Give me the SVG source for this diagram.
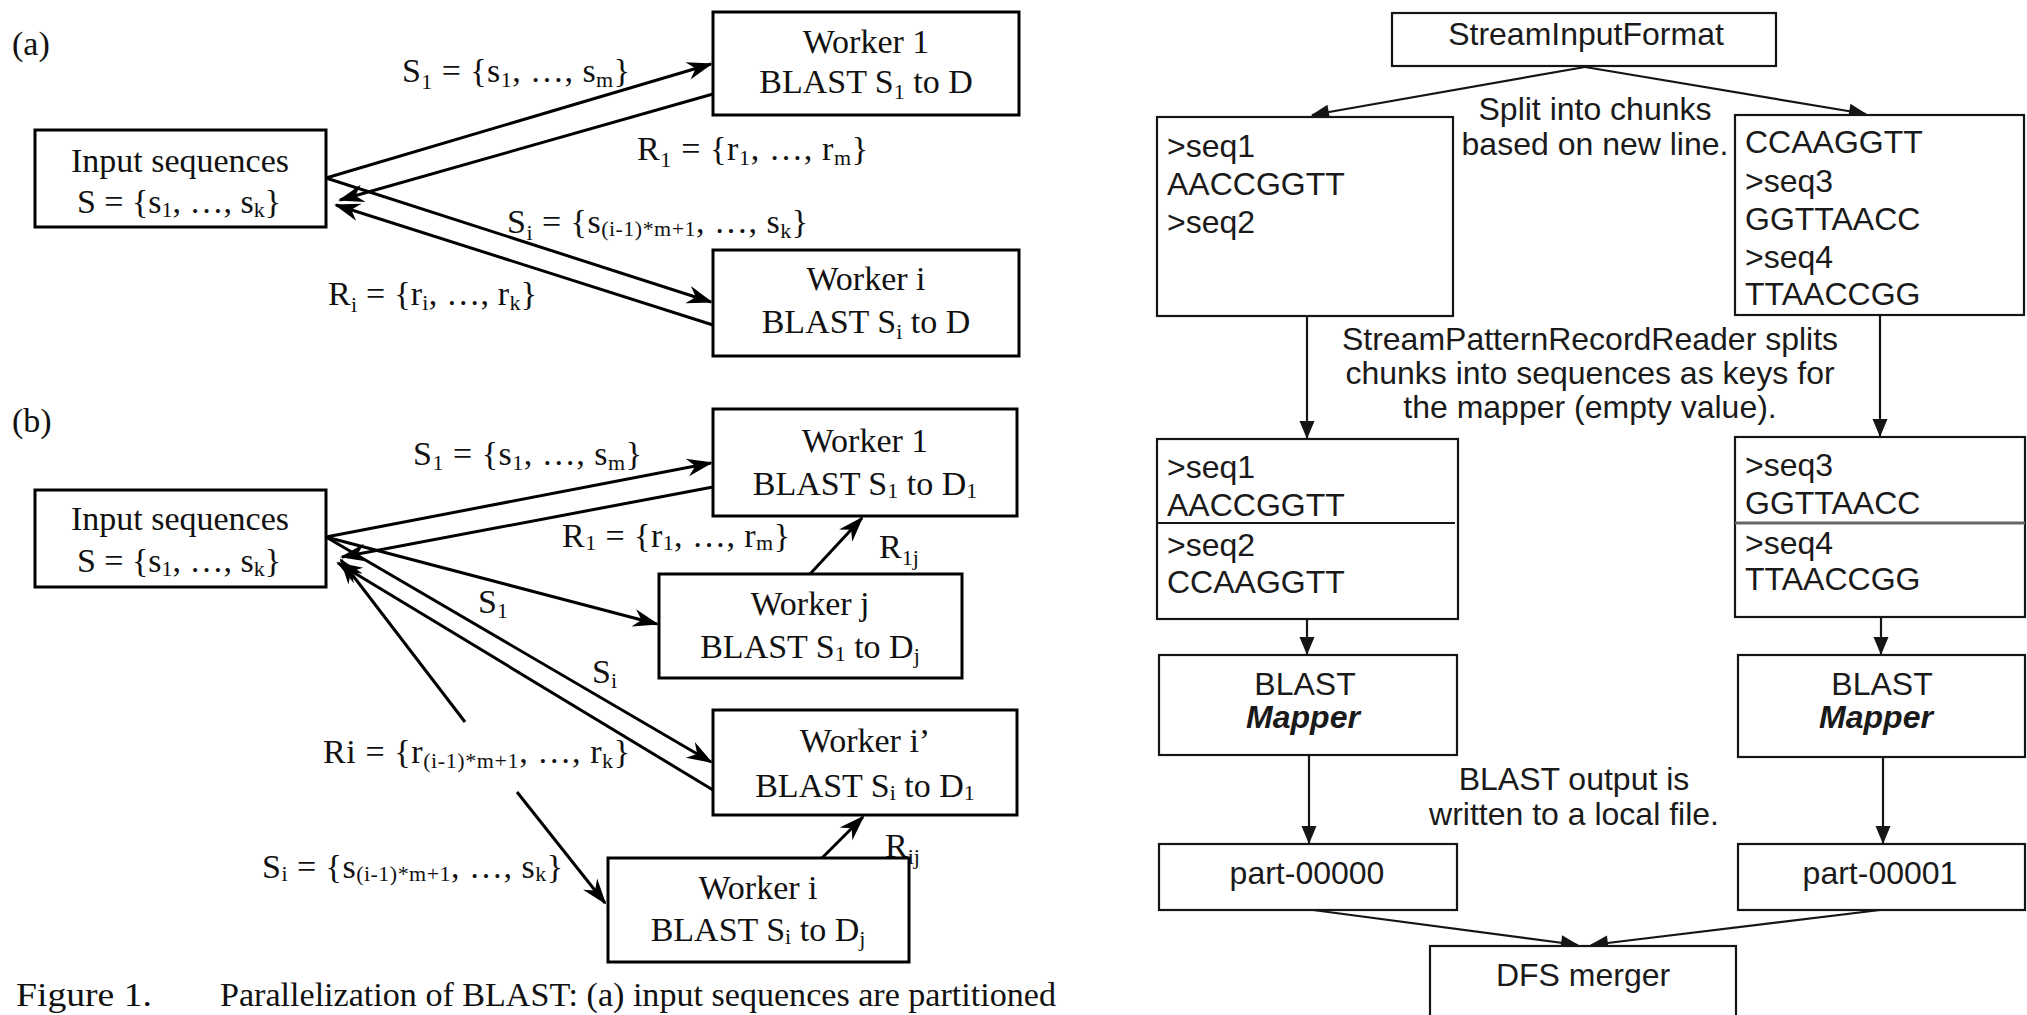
<svg xmlns="http://www.w3.org/2000/svg" width="2027" height="1015" viewBox="0 0 2027 1015">
<defs>
<style>
.box{fill:#fff;stroke:#000;stroke-width:3}
.rbox{fill:#fff;stroke:#151515;stroke-width:2.2}
.c{stroke:#000;stroke-width:3;fill:none;marker-end:url(#ah)}
.rc{stroke:#151515;stroke-width:2.2;fill:none;marker-end:url(#rah)}
.t{font-family:"Liberation Serif","Times New Roman",serif;font-size:34px;fill:#111}
.m{text-anchor:middle}
.sb{font-size:22px}
.s{font-family:"Liberation Sans",Arial,sans-serif;font-size:32px;fill:#1a1a1a}
.bi{font-weight:bold;font-style:italic}
</style>
<marker id="ah" markerUnits="userSpaceOnUse" markerWidth="30" markerHeight="22" viewBox="-26 -11 30 22" refX="0" refY="0" orient="auto">
<path d="M2,0 L-24,-9 L-16,0 L-24,9 Z" fill="#000"/>
</marker>
<marker id="rah" markerUnits="userSpaceOnUse" markerWidth="22" markerHeight="20" viewBox="-20 -10 22 20" refX="0" refY="0" orient="auto">
<path d="M1,0 L-17,-7.5 L-17,7.5 Z" fill="#151515"/>
</marker>
</defs>
<rect x="0" y="0" width="2027" height="1015" fill="#fff"/>

<!-- ===== Left figure ===== -->
<text class="t" x="12" y="55">(a)</text>
<text class="t" x="12" y="432">(b)</text>

<g id="connectors-left">
<!-- (a) -->
<path class="c" d="M326,178 L711,64"/>
<path class="c" d="M713,94 L340,200"/>
<path class="c" d="M326,178 L711,302"/>
<path class="c" d="M713,325 L336,205"/>
<!-- (b) -->
<path class="c" d="M326,537 L711,463"/>
<path class="c" d="M713,487 L342,557"/>
<path class="c" d="M326,537 L657,624"/>
<path class="c" d="M326,537 L711,762"/>
<path class="c" d="M713,790 L338,563"/>
<path class="c" d="M465,722 L341,560"/>
<path class="c" d="M517,792 L605,903"/>
<path class="c" d="M810,574 L862,518"/>
<path class="c" d="M822,858 L863,817"/>
</g>

<!-- connector labels (a) -->
<text class="t" x="402" y="82" textLength="228">S<tspan class="sb" dy="7">1</tspan><tspan dy="-7"> = {s</tspan><tspan class="sb" dy="5">1</tspan><tspan dy="-5">, …, s</tspan><tspan class="sb" dy="5">m</tspan><tspan dy="-5">}</tspan></text>
<text class="t" x="637" y="160" textLength="231">R<tspan class="sb" dy="7">1</tspan><tspan dy="-7"> = {r</tspan><tspan class="sb" dy="5">1</tspan><tspan dy="-5">, …, r</tspan><tspan class="sb" dy="5">m</tspan><tspan dy="-5">}</tspan></text>
<text class="t" x="507" y="233" textLength="301">S<tspan class="sb" dy="7">i</tspan><tspan dy="-7"> = {s</tspan><tspan class="sb" dy="3">(i-1)*m+1</tspan><tspan dy="-3">, …, s</tspan><tspan class="sb" dy="5">k</tspan><tspan dy="-5">}</tspan></text>
<text class="t" x="328" y="305" textLength="209">R<tspan class="sb" dy="7">i</tspan><tspan dy="-7"> = {r</tspan><tspan class="sb" dy="5">i</tspan><tspan dy="-5">, …, r</tspan><tspan class="sb" dy="5">k</tspan><tspan dy="-5">}</tspan></text>

<!-- connector labels (b) -->
<text class="t" x="413" y="465" textLength="229">S<tspan class="sb" dy="5">1</tspan><tspan dy="-5"> = {s</tspan><tspan class="sb" dy="5">1</tspan><tspan dy="-5">, …, s</tspan><tspan class="sb" dy="5">m</tspan><tspan dy="-5">}</tspan></text>
<text class="t" x="562" y="547" textLength="228">R<tspan class="sb" dy="3">1</tspan><tspan dy="-3"> = {r</tspan><tspan class="sb" dy="3">1</tspan><tspan dy="-3">, …, r</tspan><tspan class="sb" dy="3">m</tspan><tspan dy="-3">}</tspan></text>
<text class="t" x="478" y="613">S<tspan class="sb" dy="5">1</tspan></text>
<text class="t" x="592" y="683">S<tspan class="sb" dy="5">i</tspan></text>
<text class="t" x="323" y="763" textLength="307">Ri = {r<tspan class="sb" dy="5">(i-1)*m+1</tspan><tspan dy="-5">, …, r</tspan><tspan class="sb" dy="5">k</tspan><tspan dy="-5">}</tspan></text>
<text class="t" x="262" y="878" textLength="301">S<tspan class="sb" dy="3">i</tspan><tspan dy="-3"> = {s</tspan><tspan class="sb" dy="3">(i-1)*m+1</tspan><tspan dy="-3">, …, s</tspan><tspan class="sb" dy="3">k</tspan><tspan dy="-3">}</tspan></text>
<text class="t" x="879" y="558">R<tspan class="sb" dy="7">1j</tspan></text>
<text class="t" x="885" y="857">R<tspan class="sb" dy="7">ij</tspan></text>

<!-- nodes (a) -->
<g id="input-a">
<rect class="box" x="35" y="130" width="291" height="97"/>
<text class="t m" x="180" y="172">Input sequences</text>
<text class="t m" x="179" y="213">S = {s<tspan class="sb" dy="4">1</tspan><tspan dy="-4">, …, s</tspan><tspan class="sb" dy="4">k</tspan><tspan dy="-4">}</tspan></text>
</g>
<g id="worker1-a">
<rect class="box" x="713" y="12" width="306" height="103"/>
<text class="t m" x="866" y="53">Worker 1</text>
<text class="t m" x="866" y="93">BLAST S<tspan class="sb" dy="6">1</tspan><tspan dy="-6"> to D</tspan></text>
</g>
<g id="workeri-a">
<rect class="box" x="713" y="250" width="306" height="106"/>
<text class="t m" x="866" y="290">Worker i</text>
<text class="t m" x="866" y="333">BLAST S<tspan class="sb" dy="6">i</tspan><tspan dy="-6"> to D</tspan></text>
</g>

<!-- nodes (b) -->
<g id="input-b">
<rect class="box" x="35" y="490" width="291" height="97"/>
<text class="t m" x="180" y="530">Input sequences</text>
<text class="t m" x="179" y="572">S = {s<tspan class="sb" dy="4">1</tspan><tspan dy="-4">, …, s</tspan><tspan class="sb" dy="4">k</tspan><tspan dy="-4">}</tspan></text>
</g>
<g id="worker1-b">
<rect class="box" x="713" y="409" width="304" height="107"/>
<text class="t m" x="865" y="452">Worker 1</text>
<text class="t m" x="865" y="495">BLAST S<tspan class="sb" dy="3">1</tspan><tspan dy="-3"> to D</tspan><tspan class="sb" dy="3">1</tspan></text>
</g>
<g id="workerj-b">
<rect class="box" x="659" y="574" width="303" height="104"/>
<text class="t m" x="810" y="615">Worker j</text>
<text class="t m" x="810" y="658">BLAST S<tspan class="sb" dy="3">1</tspan><tspan dy="-3"> to D</tspan><tspan class="sb" dy="5">j</tspan></text>
</g>
<g id="workeri2-b">
<rect class="box" x="713" y="710" width="304" height="105"/>
<text class="t m" x="865" y="752">Worker i’</text>
<text class="t m" x="865" y="797">BLAST S<tspan class="sb" dy="3">i</tspan><tspan dy="-3"> to D</tspan><tspan class="sb" dy="3">1</tspan></text>
</g>
<g id="workeri-b">
<rect class="box" x="608" y="858" width="301" height="104"/>
<text class="t m" x="758" y="899">Worker i</text>
<text class="t m" x="758" y="941">BLAST S<tspan class="sb" dy="3">i</tspan><tspan dy="-3"> to D</tspan><tspan class="sb" dy="5">j</tspan></text>
</g>

<text class="t" x="16" y="1006" style="font-size:33px" textLength="136" lengthAdjust="spacingAndGlyphs">Figure 1.</text>
<text class="t" x="220" y="1006" style="font-size:33px" textLength="836" lengthAdjust="spacingAndGlyphs">Parallelization of BLAST: (a) input sequences are partitioned</text>

<!-- ===== Right figure ===== -->
<g id="connectors-right">
<path class="rc" d="M1585,67 L1312,115"/>
<path class="rc" d="M1585,67 L1866,114"/>
<path class="rc" d="M1307,316 L1307,438"/>
<path class="rc" d="M1880,315 L1880,436"/>
<path class="rc" d="M1307,619 L1307,654"/>
<path class="rc" d="M1881,617 L1881,654"/>
<path class="rc" d="M1309,755 L1309,843"/>
<path class="rc" d="M1883,757 L1883,843"/>
<path class="rc" d="M1313,910 L1578,945"/>
<path class="rc" d="M1880,910 L1591,945"/>
</g>

<text class="s m" x="1595" y="120">Split into chunks</text>
<text class="s m" x="1595" y="155">based on new line.</text>
<text class="s m" x="1590" y="350">StreamPatternRecordReader splits</text>
<text class="s m" x="1590" y="384">chunks into sequences as keys for</text>
<text class="s m" x="1590" y="418">the mapper (empty value).</text>
<text class="s m" x="1574" y="790">BLAST output is</text>
<text class="s m" x="1574" y="825">written to a local file.</text>

<g id="sif">
<rect class="rbox" x="1392" y="13" width="384" height="53"/>
<text class="s m" x="1586" y="45">StreamInputFormat</text>
</g>
<g id="chunk-left">
<rect class="rbox" x="1157" y="117" width="296" height="199"/>
<text class="s" x="1167" y="157">&gt;seq1</text>
<text class="s" x="1167" y="195">AACCGGTT</text>
<text class="s" x="1167" y="233">&gt;seq2</text>
</g>
<g id="chunk-right">
<rect class="rbox" x="1735" y="115" width="289" height="200"/>
<text class="s" x="1745" y="153">CCAAGGTT</text>
<text class="s" x="1745" y="192">&gt;seq3</text>
<text class="s" x="1745" y="230">GGTTAACC</text>
<text class="s" x="1745" y="268">&gt;seq4</text>
<text class="s" x="1745" y="305">TTAACCGG</text>
</g>
<g id="seqs-left">
<rect class="rbox" x="1157" y="439" width="301" height="180"/>
<line x1="1157" y1="523" x2="1455" y2="523" stroke="#151515" stroke-width="2.2"/>
<text class="s" x="1167" y="478">&gt;seq1</text>
<text class="s" x="1167" y="516">AACCGGTT</text>
<text class="s" x="1167" y="556">&gt;seq2</text>
<text class="s" x="1167" y="593">CCAAGGTT</text>
</g>
<g id="seqs-right">
<rect class="rbox" x="1735" y="437" width="290" height="180"/>
<line x1="1735" y1="523" x2="2025" y2="523" stroke="#666" stroke-width="3"/>
<text class="s" x="1745" y="476">&gt;seq3</text>
<text class="s" x="1745" y="514">GGTTAACC</text>
<text class="s" x="1745" y="554">&gt;seq4</text>
<text class="s" x="1745" y="590">TTAACCGG</text>
</g>
<g id="mapper-left">
<rect class="rbox" x="1159" y="655" width="298" height="100"/>
<text class="s m" x="1305" y="695">BLAST</text>
<text class="s m bi" x="1303" y="728">Mapper</text>
</g>
<g id="mapper-right">
<rect class="rbox" x="1738" y="655" width="287" height="102"/>
<text class="s m" x="1882" y="695">BLAST</text>
<text class="s m bi" x="1876" y="728">Mapper</text>
</g>
<g id="part0">
<rect class="rbox" x="1159" y="844" width="298" height="66"/>
<text class="s m" x="1307" y="884">part-00000</text>
</g>
<g id="part1">
<rect class="rbox" x="1738" y="844" width="287" height="66"/>
<text class="s m" x="1880" y="884">part-00001</text>
</g>
<g id="dfs">
<rect class="rbox" x="1430" y="946" width="306" height="90"/>
<text class="s m" x="1583" y="986">DFS merger</text>
</g>
</svg>
